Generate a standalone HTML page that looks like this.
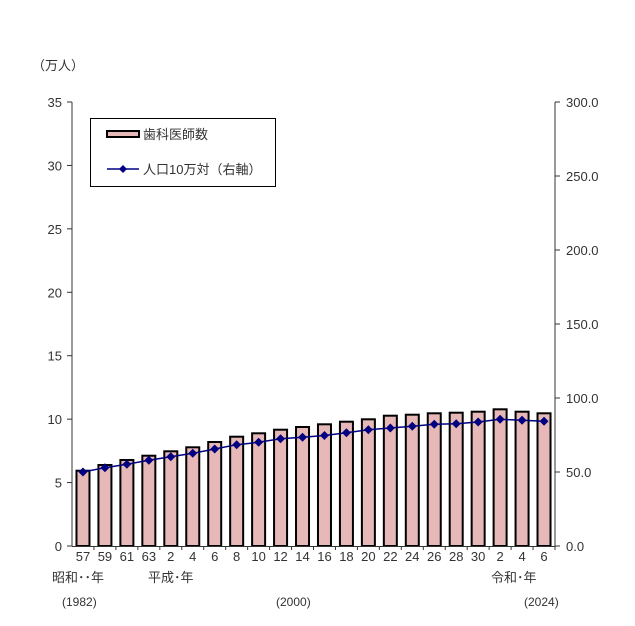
<!DOCTYPE html>
<html><head><meta charset="utf-8"><style>
body{margin:0;background:#fff}
svg text{font-family:"Liberation Sans","Noto Sans CJK JP",sans-serif;font-size:13px;fill:#333}
</style></head><body>
<svg width="635" height="621" viewBox="0 0 635 621" xmlns="http://www.w3.org/2000/svg">
<text x="32" y="70">（万人）</text>
<g id="bars" fill="#e6b8b8" stroke="#000" stroke-width="2"></g>
<g stroke="#333" stroke-width="1">
<line x1="72" y1="102" x2="72" y2="546"/>
<line x1="555" y1="102" x2="555" y2="546"/>
<line x1="72" y1="546.5" x2="555" y2="546.5"/>
</g>
<g id="ticks" stroke="#333" stroke-width="1"></g>
<g id="labels"></g>
<polyline id="line" fill="none" stroke="#000080" stroke-width="1.5"/>
<g id="dots" fill="#000080"></g>
<text x="52" y="582">昭和･･年</text>
<text x="148" y="582">平成･年</text>
<text x="491" y="582">令和･年</text>
<text x="62" y="606" style="font-size:12px">(1982)</text>
<text x="276" y="606" style="font-size:12px">(2000)</text>
<text x="524" y="606" style="font-size:12px">(2024)</text>
<rect x="90.5" y="118.5" width="185" height="68" fill="#fff" stroke="#000" stroke-width="1"/>
<rect x="107" y="131" width="32" height="6" fill="#e6b8b8" stroke="#000" stroke-width="2"/>
<text x="143" y="139">歯科医師数</text>
<line x1="107" y1="169" x2="139" y2="169" stroke="#000080" stroke-width="1.5"/>
<path d="M123 165L127 169L123 173L119 169Z" fill="#000080"/>
<text x="143" y="174">人口10万対（右軸）</text>
</svg>
<script>
const ns="http://www.w3.org/2000/svg";
const labs=["57","59","61","63","2","4","6","8","10","12","14","16","18","20","22","24","26","28","30","2","4","6"];
const tops=[470.7,465,460,455.7,451.3,447.3,442,436.7,433.3,429.7,427,424.3,421.7,419.3,415.7,414.7,413.3,412.7,411.7,409.3,411.7,413.3];
const pts=[472,467.7,464.3,460.3,456.7,453.3,449,444.7,442.3,438.7,437.3,435.5,432.7,429.7,428,426.3,424.3,423.7,422,419.3,420.3,421.3];
const sw=(555-72)/22;
function el(t,a,p,txt){const e=document.createElementNS(ns,t);for(const k in a)e.setAttribute(k,a[k]);if(txt)e.textContent=txt;document.getElementById(p).appendChild(e);}
let poly=[];
for(let i=0;i<22;i++){const c=72+sw*(i+0.5);
el("rect",{x:c-6.5,y:tops[i],width:13,height:546-tops[i]},"bars");
el("text",{x:c,y:561,"text-anchor":"middle"},"labels",labs[i]);
poly.push(c+","+pts[i]);
el("path",{d:`M${c} ${pts[i]-4.5}L${c+4.5} ${pts[i]}L${c} ${pts[i]+4.5}L${c-4.5} ${pts[i]}Z`},"dots");
const b=72+sw*(i+1);el("line",{x1:b,y1:546,x2:b,y2:550},"ticks");}
document.getElementById("line").setAttribute("points",poly.join(" "));
for(let k=0;k<=7;k++){const y=546-k*444/7;
el("line",{x1:67,y1:y,x2:72,y2:y},"ticks");
el("text",{x:62,y:y+5,"text-anchor":"end"},"labels",String(k*5));
if(k<=6){const yy=546-k*50*444/300;el("line",{x1:555,y1:yy,x2:560,y2:yy},"ticks");
el("text",{x:566,y:yy+5},"labels",(k*50).toFixed(1));}}
</script>
</body></html>
